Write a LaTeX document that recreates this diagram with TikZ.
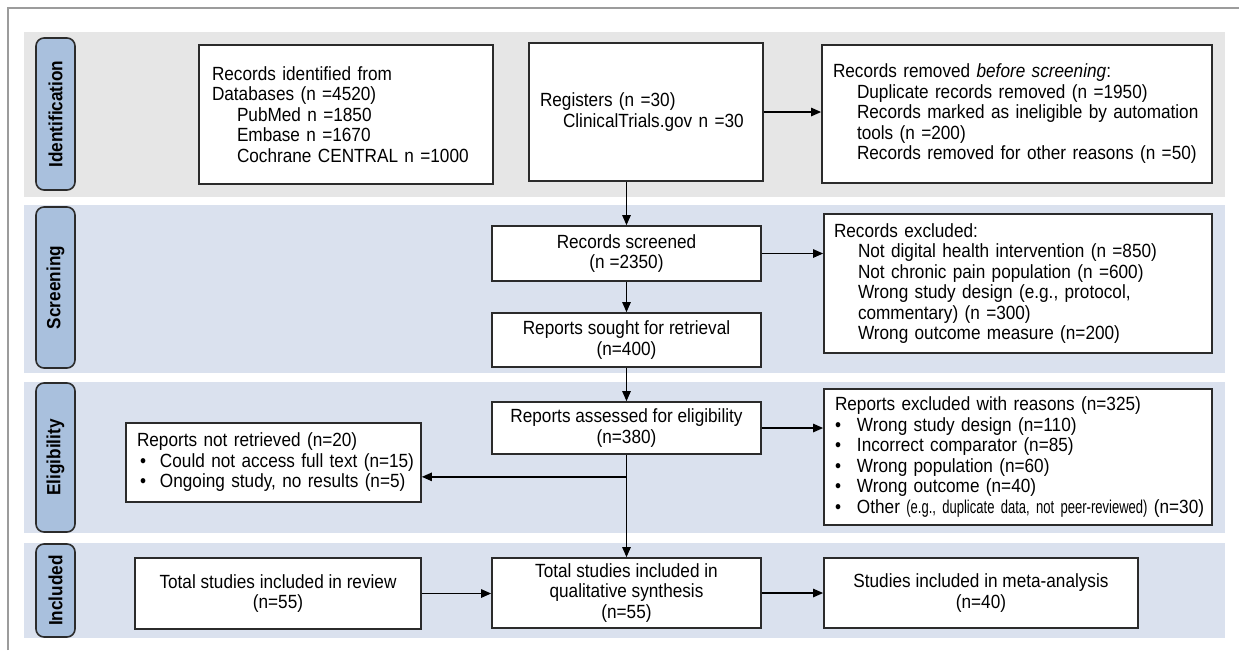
\documentclass[tikz,border=0pt]{standalone}
\usepackage{fontspec}
\setmainfont[FakeStretch=0.9]{Liberation Sans}
\newfontfamily\narrowfont[FakeStretch=0.7]{Liberation Sans}
\usepackage{xcolor}
\usepackage{tikz}
\usetikzlibrary{positioning, arrows.meta, calc}
\definecolor{bandgrey}{HTML}{E6E6E6}
\definecolor{bandblue}{HTML}{DAE1EE}
\definecolor{tabblue}{HTML}{A9C0DD}
\definecolor{edgegrey}{HTML}{2B2B2B}
\definecolor{framegrey}{HTML}{9C9C9C}

\begin{document}
\begin{tikzpicture}[
  x=0.5pt, y=-0.5pt,
  font=\fontsize{9.55}{10.25}\selectfont,
  >={Triangle[length=5pt, width=4.2pt]},
  tab/.style={draw=edgegrey, fill=tabblue, line width=0.8pt, rounded corners=4pt,
              rotate=90, minimum height=19.5pt, inner sep=0pt,
              font=\fontsize{9.55}{10}\selectfont\bfseries},
  box/.style={draw=edgegrey, fill=white, line width=0.85pt, inner sep=0pt, align=center},
  lbox/.style={box, align=left},
  arr/.style={draw=black, line width=0.7pt, ->}
]
\useasboundingbox (0,0) rectangle (1239,650);
\draw[framegrey, line width=0.75pt] (8,650) -- (8,8) -- (1239,8);

% stage bands
\fill[bandgrey] (24,32) rectangle (1225,197);
\fill[bandblue] (24,205) rectangle (1225,373);
\fill[bandblue] (24,382) rectangle (1225,533);
\fill[bandblue] (24,543) rectangle (1225,638);

\node[tab, minimum width=76pt]   (tid)   at (55.5,114)   {Identification};
\node[tab, minimum width=80.5pt] (tscr)  at (55.5,287.5) {Screening};
\node[tab, minimum width=74.5pt] (telig) at (55.5,457.5) {Eligibility};
\node[tab, minimum width=46.5pt] (tincl) at (55.5,590.5) {Included};

% identification
\node[lbox, minimum width=147pt, minimum height=69.5pt, text width=134pt] (db) at (346,114.5)
  {Records identified from\\Databases (n =4520)\\
   \hspace*{12.5pt}PubMed n =1850\\
   \hspace*{12.5pt}Embase n =1670\\
   \hspace*{12.5pt}\mbox{Cochrane CENTRAL n =1000}};
\node[lbox, minimum width=117pt, minimum height=69pt, text width=106pt] (reg) at (646,112)
  {Registers (n =30)\\\hspace*{11.5pt}\mbox{ClinicalTrials.gov n =30}};
\node[lbox, minimum width=195pt, minimum height=69pt, text width=184pt] (rem) at (1017,114)
  {Records removed \textit{before screening}:\\
   \hspace*{12pt}\mbox{Duplicate records removed (n =1950)}\\
   \hspace*{12pt}\mbox{Records marked as ineligible by automation}\\
   \hspace*{12pt}tools (n =200)\\
   \hspace*{12pt}\mbox{Records removed for other reasons (n =50)}};

% screening
\node[box, minimum width=134.5pt, minimum height=27.5pt] (scr) at (626.5,253.5)
  {Records screened\\(n =2350)};
\node[lbox, minimum width=194pt, minimum height=69.5pt, text width=184pt] (excl) at (1018,283.5)
  {Records excluded:\\
   \hspace*{12pt}\mbox{Not digital health intervention (n =850)}\\
   \hspace*{12pt}\mbox{Not chronic pain population (n =600)}\\
   \hspace*{12pt}\mbox{Wrong study design (e.g., protocol,}\\
   \hspace*{12pt}commentary) (n =300)\\
   \hspace*{12pt}\mbox{Wrong outcome measure (n=200)}};
\node[box, minimum width=134.5pt, minimum height=27pt] (sought) at (626.5,340)
  {Reports sought for retrieval\\(n=400)};

% eligibility
\node[box, minimum width=134.5pt, minimum height=26pt] (asse) at (626.5,428)
  {Reports assessed for eligibility\\(n=380)};
\node[lbox, minimum width=194pt, minimum height=68pt, text width=183pt] (reas) at (1018,457)
  {\mbox{Reports excluded with reasons (n=325)}\\
   \makebox[11pt][l]{\textbullet}Wrong study design (n=110)\\
   \makebox[11pt][l]{\textbullet}Incorrect comparator (n=85)\\
   \makebox[11pt][l]{\textbullet}Wrong population (n=60)\\
   \makebox[11pt][l]{\textbullet}Wrong outcome (n=40)\\
   \mbox{\makebox[11pt][l]{\textbullet}Other {\narrowfont\fontsize{9.3}{8}\selectfont(e.g., duplicate data, not peer-reviewed)} (n=30)}};
\node[lbox, minimum width=147.5pt, minimum height=39.5pt, text width=136.5pt] (notr) at (273.5,462.5)
  {Reports not retrieved (n=20)\\
   \mbox{\hspace*{1.5pt}\makebox[10pt][l]{\textbullet}Could not access full text (n=15)}\\
   \mbox{\hspace*{1.5pt}\makebox[10pt][l]{\textbullet}Ongoing study, no results (n=5)}};

% included
\node[box, minimum width=143pt, minimum height=35.5pt] (rev) at (278,593.5)
  {Total studies included in review\\(n=55)};
\node[box, minimum width=134.5pt, minimum height=35pt] (qual) at (626.5,593)
  {Total studies included in\\qualitative synthesis\\(n=55)};
\node[box, minimum width=157pt, minimum height=35pt] (meta) at (981,593)
  {Studies included in meta-analysis\\(n=40)};

\draw[arr] (reg.south -| scr.north) -- (scr.north);
\draw[arr] (reg.east) -- (reg.east -| rem.west);
\draw[arr] (scr.east) -- (scr.east -| excl.west);
\draw[arr] (scr) -- (sought);
\draw[arr] (sought) -- (asse);
\draw[arr] (asse.east) -- (asse.east -| reas.west);
\draw[arr] (asse) -- (qual);
\coordinate (split) at ([yshift=-11pt]asse.south);
\draw[arr] (split) -- (split -| notr.east);
\draw[arr] (rev.east) -- (rev.east -| qual.west);
\draw[arr] (qual.east) -- (qual.east -| meta.west);
\end{tikzpicture}
\end{document}
